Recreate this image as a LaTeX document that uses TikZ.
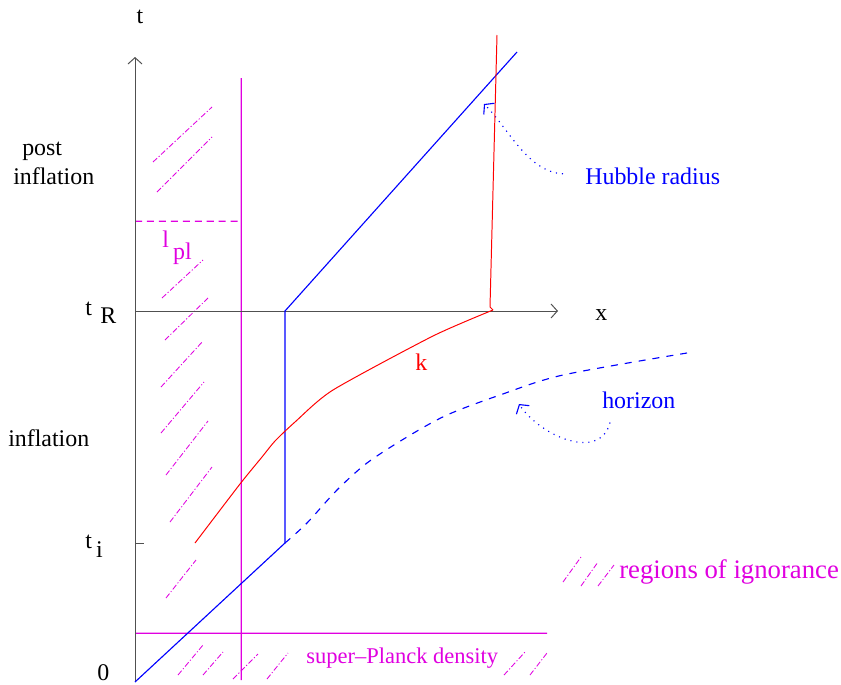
\documentclass[tikz,border=0pt]{standalone}
\usepackage{fontspec}
\setmainfont{Liberation Serif}
\usetikzlibrary{arrows.meta}
\definecolor{figBlue}{HTML}{0000FF}
\definecolor{figRed}{HTML}{FF0000}
\definecolor{figMagenta}{HTML}{E000E0}
\definecolor{figAxis}{HTML}{505050}
\tikzset{
  axisline/.style  = {-{Straight Barb[length=4.5pt, width=10pt]}, line width=0.7pt, color=figAxis},
  hubline/.style   = {color=figBlue, line width=0.8pt},
  horline/.style   = {color=figBlue, line width=0.8pt, dash pattern=on 5pt off 5pt},
  kline/.style     = {color=figRed, line width=0.7pt},
  plancklen/.style = {color=figMagenta, line width=0.85pt},
  hatch/.style     = {color=figMagenta, line width=0.6pt,
                      dash pattern=on 4pt off 1.5pt on 0.8pt off 1.5pt},
  pointer/.style   = {color=figBlue, line width=0.8pt, dash pattern=on 0.8pt off 3.5pt,
                      -{Straight Barb[length=4.5pt, width=11pt]}},
  lbl/.style       = {font=\fontsize{17}{20}\selectfont, inner sep=0pt, anchor=base west},
}

\begin{document}
\begin{tikzpicture}[x=0.025cm, y=-0.025cm]
\useasboundingbox (0,0) rectangle (841,684);

% ---- regions of ignorance ---------------------------------------------------
\foreach \xa/\ya/\xb/\yb in {153/162/212/107, 157/192/212/137, 162/298/203/260,
    165/340/208/298, 161/387/203/341, 161/433/204/382, 166/475/208/421,
    170/522/212/467, 166/598/196/560,
    178/675/203/645, 203/675/223/652, 233/679/258/654, 267/679/288/653,
    504/675/525/652, 530/675/547/653,
    563/582/581/557, 581/586/598/562, 598/586/614/565} {
  \draw[hatch] (\xa,\ya) -- (\xb,\yb);
}

% ---- Planck length and density ----------------------------------------------
\draw[plancklen] (241.2,78) -- (241.22,680);
\draw[plancklen] (135,633.2) -- (547,633.22);
\draw[plancklen, dash pattern=on 5pt off 3.5pt] (135,221.2) -- (241,221.22);

% ---- axes ------------------------------------------------------------------
\coordinate (O)  at (135,682);
\coordinate (tR) at (135,311);
\coordinate (ti) at (135,543);
\draw[axisline] (O) -- (135,57);
\draw[axisline] (tR) -- (558,311);
\draw[line width=0.7pt, color=figAxis] (ti) -- ++(9,0);

\node[lbl, anchor=base] (tlab) at (140,23) {t};
\node[lbl] (xlab) at (595,320) {x};
\node[lbl] (tRlab) at (85,315) {t\hspace{6pt}\raisebox{-6pt}{R}};
\node[lbl] (tilab) at (85,548) {t\hspace{3pt}\raisebox{-6.4pt}{i}};
\node[lbl] (zero) at (97,680) {0};
\node[lbl] (post) at (22,155) {post};
\node[lbl] (postinf) at (13,184) {inflation};
\node[lbl] (inf) at (8,446) {inflation};

\node[lbl, text=figMagenta] (lpl) at (162,247) {l\hspace{3pt}\raisebox{-9pt}{pl}};
\node[lbl, text=figMagenta, font=\fontsize{16}{19}\selectfont] (density) at (306,663)
  {super\textendash Planck density};
\node[lbl, text=figMagenta, font=\fontsize{19}{22}\selectfont] (ignorance) at (619,578)
  {regions of ignorance};

% ---- Hubble radius and horizon ---------------------------------------------
\draw[hubline] (O) -- (285,543) -- (285,311) -- (517,52);
\draw[horline] plot[smooth] coordinates {(285,543) (307,523) (337,490) (367,463)
  (407,437) (447,415) (500,395) (563,375) (687,353)};

\node[lbl, text=figBlue] (hubble) at (585,184) {Hubble radius};
\coordinate (hubtip) at (484,104);
\draw[pointer] ([shift={(-22,-2)}]hubble.west) .. controls (527,172) and (507,126) .. (hubtip);

\node[lbl, text=figBlue] (horizon) at (602,408) {horizon};
\coordinate (hortip) at (519,404);
\draw[pointer] ([shift={(8,14)}]horizon.south west) .. controls (600,462) and (540,436) .. (hortip);

% ---- the mode k ------------------------------------------------------------
\draw[kline] plot[smooth, tension=0.4] coordinates {(195,543) (240,484) (262,457)
  (275,441) (295,422) (333,390) (433,336) (493,310)};
\draw[kline] (493,310) -- (490,307) -- (497,35);
\node[lbl, text=figRed] (klab) at (415,370) {k};

\end{tikzpicture}
\end{document}
